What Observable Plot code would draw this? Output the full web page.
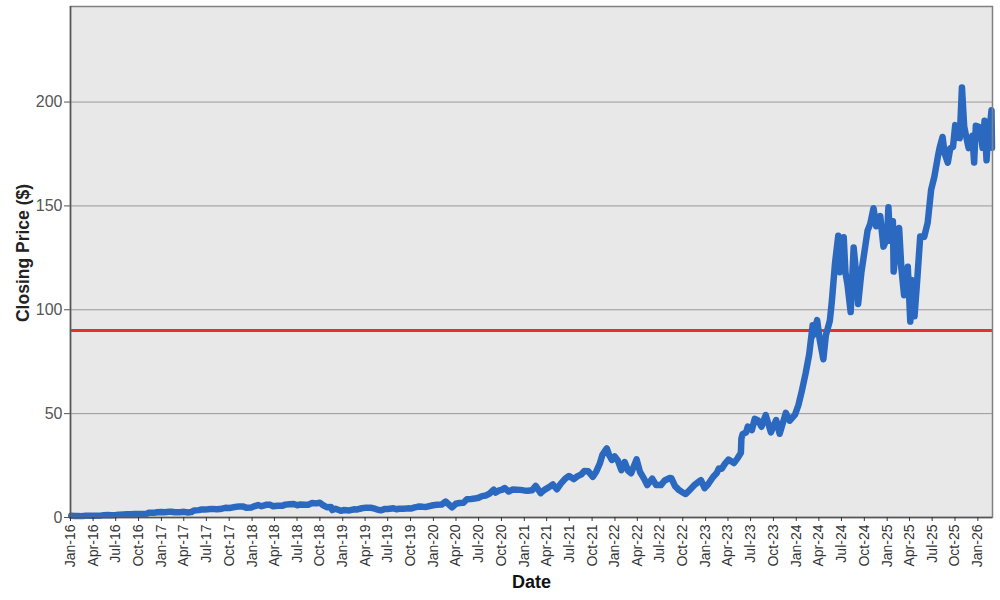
<!DOCTYPE html>
<html>
<head>
<meta charset="utf-8">
<script src="https://cdn.jsdelivr.net/npm/d3@7"></script>
<script src="https://cdn.jsdelivr.net/npm/@observablehq/plot@0.6"></script>
<style>
  html, body { margin: 0; padding: 0; background: #fff; }
  #chart { width: 1000px; height: 600px; }
</style>
</head>
<body>
<div id="chart"></div>
<script>
const dates = [
  "2016-01-04","2016-01-20","2016-02-01","2016-02-11","2016-02-22","2016-03-01","2016-03-15","2016-04-01","2016-04-15","2016-05-02","2016-05-13","2016-05-31","2016-06-15","2016-07-01","2016-07-15","2016-08-01","2016-08-15","2016-09-01","2016-09-15","2016-10-03","2016-10-17","2016-11-01","2016-11-11","2016-12-01","2016-12-15","2016-12-30",
  "2017-01-13","2017-02-01","2017-02-10","2017-02-24","2017-03-15","2017-04-03","2017-04-18","2017-05-01","2017-05-12","2017-06-01","2017-06-09","2017-06-23","2017-07-07","2017-07-25","2017-08-11","2017-08-25","2017-09-15","2017-10-02","2017-10-17","2017-11-10","2017-11-24","2017-12-08","2017-12-29",
  "2018-01-12","2018-01-25","2018-02-08","2018-02-26","2018-03-13","2018-03-27","2018-04-13","2018-05-01","2018-05-15","2018-06-01","2018-06-18","2018-07-02","2018-07-16","2018-08-01","2018-08-17","2018-08-31","2018-09-17","2018-10-01","2018-10-12","2018-10-29","2018-11-15","2018-11-20","2018-12-03","2018-12-24",
  "2019-01-04","2019-01-28","2019-02-15","2019-03-01","2019-03-19","2019-04-05","2019-04-24","2019-05-06","2019-05-17","2019-06-03","2019-06-18","2019-07-02","2019-07-24","2019-08-05","2019-08-16","2019-09-03","2019-09-20","2019-10-02","2019-10-18","2019-11-05","2019-11-20","2019-12-03","2019-12-31",
  "2020-01-15","2020-02-03","2020-02-19","2020-02-28","2020-03-16","2020-03-31","2020-04-15","2020-05-01","2020-05-15","2020-06-01","2020-06-15","2020-07-01","2020-07-15","2020-07-31","2020-08-14","2020-08-31","2020-09-08","2020-09-21","2020-10-02","2020-10-14","2020-10-30","2020-11-16","2020-12-01","2020-12-15","2020-12-31",
  "2021-01-15","2021-02-01","2021-02-16","2021-03-08","2021-03-23","2021-04-09","2021-04-26","2021-05-12","2021-05-28","2021-06-15","2021-06-30","2021-07-19","2021-08-02","2021-08-19","2021-08-31","2021-09-15","2021-10-04","2021-10-18","2021-11-01","2021-11-12","2021-11-29","2021-12-09","2021-12-20","2021-12-31",
  "2022-01-12","2022-01-27","2022-02-09","2022-02-23","2022-03-07","2022-03-29","2022-04-12","2022-04-29","2022-05-11","2022-05-31","2022-06-16","2022-07-05","2022-07-20","2022-08-10","2022-08-16","2022-08-31","2022-09-16","2022-09-30","2022-10-13","2022-10-31","2022-11-17","2022-11-30","2022-12-13","2022-12-28",
  "2023-01-11","2023-01-31","2023-02-15","2023-02-23","2023-03-07","2023-03-21","2023-04-03","2023-04-25","2023-05-10","2023-05-23","2023-05-25","2023-05-30","2023-06-13","2023-06-20","2023-07-06","2023-07-18","2023-07-31","2023-08-14","2023-08-24","2023-08-31","2023-09-21","2023-10-12","2023-10-26","2023-11-20","2023-12-05","2023-12-27",
  "2024-01-10","2024-01-24","2024-02-08","2024-02-22","2024-03-07","2024-03-08","2024-03-25","2024-04-04","2024-04-19","2024-04-29","2024-05-15","2024-05-23","2024-06-05","2024-06-18","2024-06-24","2024-07-10","2024-07-17","2024-07-25","2024-08-07","2024-08-19","2024-08-29","2024-09-06","2024-09-19","2024-10-14","2024-10-25","2024-11-07","2024-11-18","2024-12-04","2024-12-17","2024-12-31",
  "2025-01-06","2025-01-13","2025-01-24","2025-01-27","2025-02-06","2025-02-18","2025-02-27","2025-03-10","2025-03-25","2025-04-04","2025-04-09","2025-04-21","2025-05-02","2025-05-14","2025-05-30","2025-06-13","2025-06-27","2025-07-10","2025-07-24","2025-07-31","2025-08-12","2025-08-20","2025-09-02","2025-09-12","2025-09-23","2025-10-02","2025-10-10","2025-10-20","2025-10-29","2025-11-07","2025-11-20","2025-11-25","2025-12-10","2025-12-17","2025-12-24",
  "2026-01-05","2026-01-13","2026-01-20","2026-01-28","2026-02-05","2026-02-12","2026-02-20","2026-02-25","2026-02-27"
];
const closes = [
  0.81,0.71,0.72,0.66,0.78,0.80,0.83,0.89,0.90,0.89,1.06,1.17,1.13,1.18,1.30,1.44,1.56,1.53,1.64,1.72,1.70,1.72,2.24,2.25,2.55,2.67,
  2.55,2.72,2.80,2.52,2.55,2.72,2.42,2.60,3.40,3.55,3.80,3.85,3.95,4.15,4.00,4.05,4.65,4.55,4.90,5.35,5.35,4.75,4.84,
  5.50,6.00,5.40,6.10,6.20,5.40,5.70,5.60,6.20,6.40,6.50,5.90,6.30,6.15,6.15,7.00,6.80,7.10,6.10,4.95,5.10,3.60,4.20,3.20,
  3.60,3.40,3.95,3.90,4.45,4.75,4.70,4.40,3.95,3.45,4.05,4.10,4.45,3.95,4.20,4.20,4.40,4.30,4.90,5.30,5.15,5.10,5.90,
  6.10,6.20,7.70,6.75,4.90,6.60,7.00,7.10,8.80,8.90,9.10,9.50,10.30,10.60,11.50,13.40,12.00,13.00,13.30,14.20,12.50,13.50,13.40,13.30,13.05,
  12.90,13.10,15.20,11.70,13.30,14.50,15.90,13.60,16.30,18.70,20.00,18.50,19.80,20.80,22.40,22.30,19.60,22.20,26.00,30.30,33.30,29.90,27.70,29.40,
  27.60,22.80,26.70,22.50,21.30,28.00,21.90,18.50,15.60,18.70,15.60,15.60,17.80,19.00,18.90,15.10,13.20,12.10,11.30,13.50,15.60,16.90,18.00,14.10,
  16.00,19.50,21.40,23.60,23.50,26.10,27.90,26.20,28.60,31.10,37.98,40.10,41.00,43.80,42.10,47.50,46.70,43.70,47.10,49.30,41.00,46.90,40.30,50.40,46.60,49.50,
  54.30,61.30,69.60,78.50,92.60,87.50,95.00,85.90,76.20,87.70,94.60,103.80,122.40,135.60,118.10,134.90,117.90,112.30,98.90,130.00,117.60,102.80,117.90,138.10,141.50,148.90,140.20,145.10,130.40,134.30,
  149.40,133.20,142.60,118.40,128.70,139.40,120.20,106.98,120.70,94.30,114.30,96.90,114.50,135.30,135.10,141.90,157.80,164.10,173.70,177.90,183.20,175.40,170.80,177.80,178.40,188.90,183.20,182.60,207.00,188.20,180.60,177.80,183.80,170.90,188.60,
  188.10,185.00,178.00,191.00,172.00,186.00,190.00,196.00,178.00
];
const yTicks = [0, 50, 100, 150, 200];
const threshold = [90];
const xLabel = "Date";
const yLabel = "Closing Price ($)";

const data = dates.map((d, i) => ({date: new Date(d), close: closes[i]}));
const xStart = new Date("2016-01-01");
const xEnd = new Date("2026-03-01");
const xTicks = d3.utcMonth.every(3).range(xStart, new Date("2026-02-01"));

const chart = Plot.plot({
  width: 1000,
  height: 600,
  marginLeft: 70,
  marginRight: 8,
  marginTop: 6,
  marginBottom: 83,
  style: {fontFamily: "'Liberation Sans', Arial, sans-serif", background: "#fff"},
  x: {type: "utc", domain: [xStart, xEnd]},
  y: {domain: [0, 246]},
  marks: [
    Plot.frame({fill: "#e8e8e8", stroke: null}),
    Plot.gridY(yTicks.filter(t => t > 0), {stroke: "#999", strokeOpacity: 1, strokeWidth: 1}),
    Plot.ruleY(threshold, {stroke: "#e5302b", strokeWidth: 3}),
    Plot.line(data, {x: "date", y: "close", stroke: "#2b69c0", strokeWidth: 6.5, strokeLinejoin: "round", strokeLinecap: "round"}),
    Plot.frame({stroke: "#808080", strokeWidth: 1.5}),
    Plot.ruleX([xStart], {stroke: "#555", strokeWidth: 1.5}),
    Plot.ruleY([0], {stroke: "#555", strokeWidth: 1.5}),
    Plot.axisY({ticks: yTicks, tickSize: 6, tickPadding: 2, fontSize: 16, color: "#555", label: null}),
    Plot.axisX({ticks: xTicks, tickFormat: d3.utcFormat("%b-%y"), tickRotate: -90, tickSize: 4, tickPadding: 3, fontSize: 14, color: "#333", label: null}),
    Plot.text([yLabel], {frameAnchor: "left", textAnchor: "middle", dx: -47, dy: -9, rotate: -90, fontWeight: "bold", fontSize: 17.5, fill: "#222"}),
    Plot.text([xLabel], {frameAnchor: "bottom", lineAnchor: "middle", dy: 65, fontWeight: "bold", fontSize: 18, fill: "#111"})
  ]
});
document.getElementById("chart").appendChild(chart);
</script>
</body>
</html>
